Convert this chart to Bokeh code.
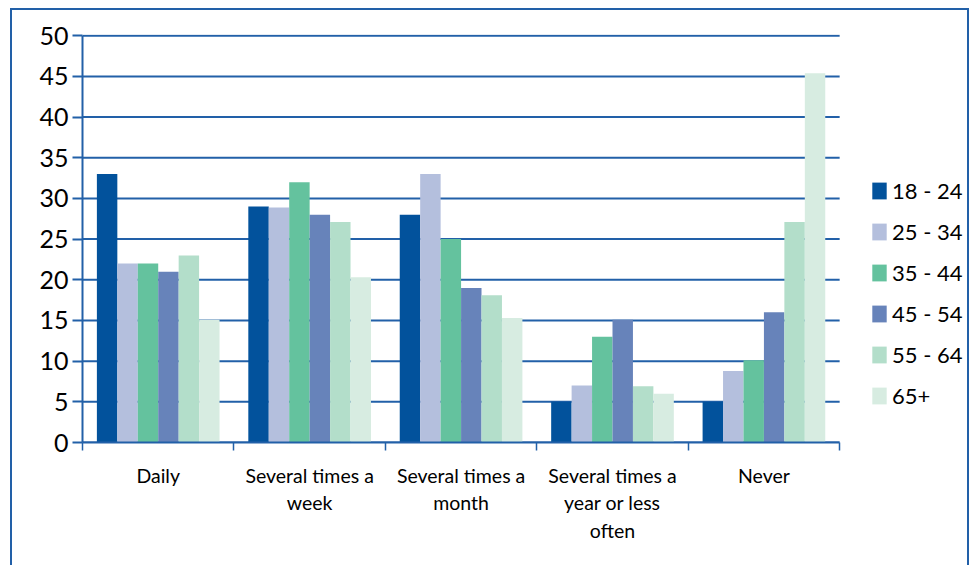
from bokeh.plotting import figure
from bokeh.models import (Range1d, FixedTicker, Legend, LegendItem, ColumnDataSource)
from bokeh.embed import file_html
from bokeh.resources import INLINE

categories = ["Daily", "Several times a\nweek", "Several times a\nmonth",
              "Several times a\nyear or less\noften", "Never"]
age_groups = ["18 - 24", "25 - 34", "35 - 44", "45 - 54", "55 - 64", "65+"]
v_18_24 = [33, 29, 28, 5, 5]
v_25_34 = [22, 28.9, 33, 7, 8.8]
v_35_44 = [22, 32, 25, 13, 10.1]
v_45_54 = [21, 28, 19, 15.1, 16]
v_55_64 = [23, 27.1, 18.1, 6.9, 27.1]
v_65p = [15.1, 20.3, 15.3, 6, 45.4]
series = [v_18_24, v_25_34, v_35_44, v_45_54, v_55_64, v_65p]
colors = ["#02529c", "#b4bfdd", "#64c29e", "#6783ba", "#b3deca", "#d7ece1"]
y_ticks = list(range(0, 55, 5))

FONT = "Lato"
BLUE = "#2260a8"
n = len(categories)
# frame extends past the category area so the legend (drawn in the frame) is not clipped
x_end = n * 883 / 758

p = figure(width=955, height=555, output_backend="svg", toolbar_location=None,
           x_range=Range1d(0, x_end), y_range=Range1d(0, 50.15),
           min_border_left=70, min_border_right=7, min_border_top=24,
           min_border_bottom=127)
p.margin = (8, 0, 0, 10)
p.styles = {"border": "2px solid " + BLUE, "box-sizing": "content-box"}
p.outline_line_color = None
p.background_fill_color = "white"
p.border_fill_color = "white"

# y axis
p.yaxis.ticker = FixedTicker(ticks=y_ticks)
p.yaxis.bounds = (0, 50)
p.yaxis.axis_line_color = BLUE
p.yaxis.axis_line_width = 2
p.yaxis.major_tick_line_color = BLUE
p.yaxis.major_tick_line_width = 2
p.yaxis.major_tick_out = 10
p.yaxis.major_tick_in = 0
p.yaxis.minor_tick_line_color = None
p.yaxis.major_label_text_font = FONT
p.yaxis.major_label_text_font_size = "25px"
p.yaxis.major_label_text_color = "black"
p.yaxis.major_label_standoff = 4

p.xgrid.grid_line_color = None
p.ygrid.grid_line_color = None
# horizontal gridlines limited to the category area
p.segment(x0=[0] * len(y_ticks), x1=[n] * len(y_ticks), y0=y_ticks, y1=y_ticks,
          line_color=BLUE, line_width=2, level="underlay")

# x axis: category labels at centres, boundary ticks as minor ticks
centers = [i + 0.5 for i in range(n)]
xa = p.xaxis[0]
xa.bounds = (0, n)
xa.ticker = FixedTicker(ticks=centers, minor_ticks=list(range(n + 1)))
xa.major_label_overrides = {c: lab for c, lab in zip(centers, categories)}
xa.axis_line_color = BLUE
xa.axis_line_width = 2
xa.major_tick_line_color = None
xa.minor_tick_line_color = BLUE
xa.minor_tick_line_width = 1.5
xa.minor_tick_out = 8
xa.minor_tick_in = 0
xa.major_label_text_font = FONT
xa.major_label_text_font_size = "19.5px"
xa.major_label_text_color = "black"
xa.major_label_standoff = 13

bw = 0.135
items = []
for j, (name, vals, col) in enumerate(zip(age_groups, series, colors)):
    src = ColumnDataSource(dict(x=[i + 0.5 + (j - 2.5) * bw for i in range(n)],
                                top=vals))
    r = p.vbar(x="x", top="top", bottom=0, width=bw, source=src,
               fill_color=col, line_color=None)
    items.append(LegendItem(label=name, renderers=[r]))

legend = Legend(items=items, location=(788, 33), orientation="vertical")
legend.label_text_font = FONT
legend.label_text_font_size = "22px"
legend.label_text_color = "black"
legend.glyph_width = 18
legend.glyph_height = 21
legend.label_height = 21
legend.spacing = 14
legend.padding = 0
legend.margin = 0
legend.label_standoff = 4
legend.border_line_color = None
legend.background_fill_alpha = 0
p.add_layout(legend, "center")

open("out.html", "w").write(file_html(p, INLINE))
